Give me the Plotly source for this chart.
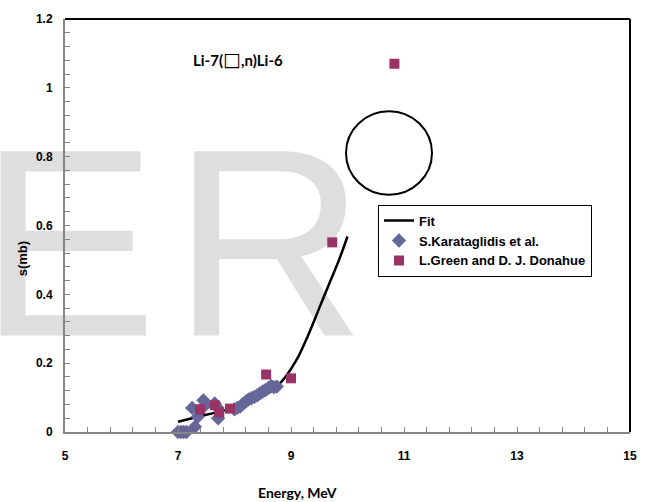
import plotly.graph_objects as go

# Data
fit_x = [7.0, 7.5, 8.0, 8.4, 8.7, 8.9, 9.1, 9.3, 9.5, 9.7, 9.85, 10.0]
fit_y = [0.03, 0.05, 0.07, 0.095, 0.125, 0.16, 0.21, 0.28, 0.36, 0.44, 0.50, 0.568]

kar_x = [7.0, 7.05, 7.1, 7.15, 7.3, 7.25, 7.35, 7.45, 7.48, 7.65, 7.69, 7.71,
         8.0, 8.05, 8.1, 8.15, 8.2, 8.25, 8.3, 8.35, 8.4, 8.45, 8.5, 8.55, 8.6, 8.65, 8.7, 8.75]
kar_y = [0.0, 0.0, 0.0, 0.0, 0.015, 0.07, 0.044, 0.092, 0.078, 0.083, 0.072, 0.04,
         0.066, 0.07, 0.074, 0.082, 0.088, 0.095, 0.098, 0.102, 0.106, 0.112, 0.118, 0.122, 0.128, 0.134, 0.13, 0.132]

green_x = [7.39, 7.65, 7.73, 7.92, 8.56, 9.0, 9.73, 10.83]
green_y = [0.066, 0.078, 0.057, 0.068, 0.167, 0.156, 0.551, 1.07]

title_text = "Li-7(<span style='font-family:DejaVu Sans;font-size:19px;font-weight:normal'>□</span>,n)Li-6"
x_title = "Energy, MeV"
y_title = "s(mb)"

W, H = 654, 502
L, R, T, B = 65, 630, 16, 432


def px(xp):
    return (xp - L) / (R - L)


def py(yp):
    return (B - yp) / (B - T)


fig = go.Figure()
fig.add_trace(go.Scatter(x=fit_x, y=fit_y, mode="lines", name="Fit",
                         line=dict(color="black", width=2.5, shape="spline")))
fig.add_trace(go.Scatter(x=kar_x, y=kar_y, mode="markers", name="S.Karataglidis et al.",
                         cliponaxis=False,
                         marker=dict(symbol="diamond", size=11, color="#666699",
                                     line=dict(width=0))))
fig.add_trace(go.Scatter(x=green_x, y=green_y, mode="markers", name="L.Green and D. J. Donahue",
                         cliponaxis=False,
                         marker=dict(symbol="square", size=10, color="#993366",
                                     line=dict(width=0))))

axis_font = dict(family="Liberation Sans, Arial", size=12, color="black", weight="bold")

fig.update_layout(
    width=W, height=H,
    margin=dict(l=L, r=W - R, t=T, b=H - B),
    paper_bgcolor="white",
    plot_bgcolor="rgba(0,0,0,0)",
    showlegend=True,
    hovermode=False,
    legend=dict(x=px(378), y=py(203), xanchor="left", yanchor="top",
                bgcolor="white", bordercolor="black", borderwidth=1,
                font=dict(family="Liberation Sans, Arial", size=13, color="black", weight="bold"),
                tracegroupgap=0, itemwidth=30),
    xaxis=dict(range=[5, 15], tickmode="linear", tick0=5, dtick=2,
               showgrid=False, zeroline=False,
               showline=True, linecolor="#868686", linewidth=2,
               ticks="inside", ticklen=5, tickcolor="#868686",
               minor=dict(dtick=0.4, tick0=5, ticks="inside", ticklen=5, tickcolor="#868686", showgrid=False),
               tickfont=axis_font, ticklabelstandoff=12),
    yaxis=dict(range=[0, 1.2], tickmode="linear", tick0=0, dtick=0.2,
               showgrid=False, zeroline=False,
               showline=True, linecolor="#868686", linewidth=2,
               ticks="inside", ticklen=5, tickcolor="#868686",
               minor=dict(dtick=0.04, tick0=0, ticks="inside", ticklen=5, tickcolor="#868686", showgrid=False),
               tickfont=axis_font, ticklabelstandoff=8),
)

# Watermark letters behind the data
wm_font = dict(family="Liberation Sans, Arial", size=268, color="#dedede")
for letter, cx in (("E", 68), ("R", 269)):
    fig.add_shape(type="rect", xref="paper", yref="paper",
                  x0=px(cx) - 0.15, x1=px(cx) + 0.15, y0=py(216) - 0.2, y1=py(216) + 0.2,
                  line=dict(width=0), fillcolor="rgba(0,0,0,0)", layer="below",
                  label=dict(text=letter, textposition="middle center", font=wm_font))

# Frame top and right (black)
fig.add_shape(type="line", xref="paper", yref="paper", x0=0, x1=1, y0=1, y1=1,
              line=dict(color="black", width=2))
fig.add_shape(type="line", xref="paper", yref="paper", x0=1, x1=1, y0=0, y1=1,
              line=dict(color="black", width=2))

# Circle
fig.add_shape(type="circle", xref="paper", yref="paper",
              x0=px(346), x1=px(432), y0=py(193), y1=py(109),
              line=dict(color="black", width=2))

fig.add_annotation(text=title_text, xref="paper", yref="paper", x=px(238), y=py(56),
                   showarrow=False, xanchor="center", yanchor="middle",
                   font=dict(family="Lato", size=15, color="black", weight="bold"))
fig.add_annotation(text=x_title, xref="paper", yref="paper", x=px(297), y=py(493),
                   showarrow=False, xanchor="center", yanchor="middle",
                   font=dict(family="Lato", size=14, color="black", weight="bold"))
fig.add_annotation(text=y_title, xref="paper", yref="paper", x=px(22), y=py(258),
                   showarrow=False, xanchor="center", yanchor="middle", textangle=-90,
                   font=dict(family="Liberation Sans, Arial", size=13, color="black", weight="bold"))

fig.write_html("out.html", config={"displayModeBar": False},
               post_script="document.body.style.margin='0';")
